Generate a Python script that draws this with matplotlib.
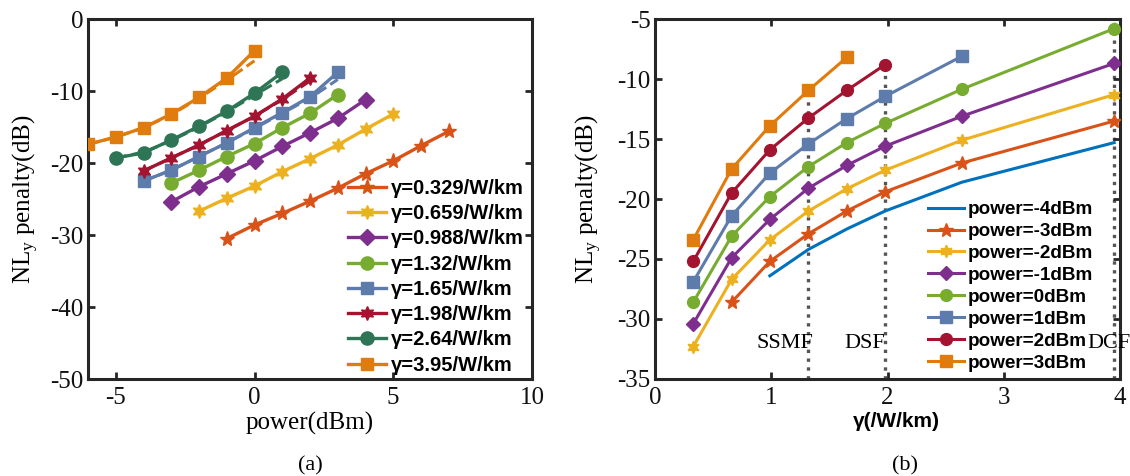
import matplotlib
matplotlib.use("Agg")
import matplotlib.pyplot as plt

# ---------------- data: panel (a) ----------------
gamma_labels = ["γ=0.329/W/km", "γ=0.659/W/km", "γ=0.988/W/km", "γ=1.32/W/km",
                "γ=1.65/W/km", "γ=1.98/W/km", "γ=2.64/W/km", "γ=3.95/W/km"]
power_0329 = [-1, 0, 1, 2, 3, 4, 5, 6, 7]
nl_0329 = [-30.5, -28.6, -27.0, -25.3, -23.5, -21.5, -19.7, -17.6, -15.6]
power_0659 = [-2, -1, 0, 1, 2, 3, 4, 5]
nl_0659 = [-26.7, -24.9, -23.2, -21.2, -19.4, -17.5, -15.3, -13.2]
power_0988 = [-3, -2, -1, 0, 1, 2, 3, 4]
nl_0988 = [-25.4, -23.3, -21.5, -19.7, -17.7, -15.8, -13.8, -11.2]
power_132 = [-3, -2, -1, 0, 1, 2, 3]
nl_132 = [-22.8, -21.0, -19.1, -17.3, -15.1, -13.1, -10.5]
power_165 = [-4, -3, -2, -1, 0, 1, 2, 3]
nl_165 = [-22.5, -21.0, -19.1, -17.2, -15.1, -13.0, -10.8, -7.4]
power_198 = [-4, -3, -2, -1, 0, 1, 2]
nl_198 = [-21.1, -19.3, -17.5, -15.5, -13.5, -11.1, -8.2]
power_264 = [-5, -4, -3, -2, -1, 0, 1]
nl_264 = [-19.3, -18.6, -16.8, -14.9, -12.8, -10.3, -7.4]
power_395 = [-6, -5, -4, -3, -2, -1, 0]
nl_395 = [-17.4, -16.4, -15.1, -13.2, -10.9, -8.2, -4.4]

# dashed (model) curves, visible near the upper ends
fit_165 = [-22.5, -21.0, -19.1, -17.2, -15.2, -13.1, -11.0, -8.4]
fit_198 = [-21.1, -19.3, -17.5, -15.5, -13.5, -11.2, -8.6]
fit_264 = [-19.3, -18.5, -16.9, -15.0, -12.9, -10.6, -8.3]
fit_395 = [-17.4, -16.4, -15.1, -13.3, -11.0, -8.5, -5.8]

# ---------------- data: panel (b) ----------------
power_labels = ["power=-4dBm", "power=-3dBm", "power=-2dBm", "power=-1dBm",
                "power=0dBm", "power=1dBm", "power=2dBm", "power=3dBm"]
g_m4 = [0.988, 1.32, 1.65, 1.98, 2.64, 3.95]
nl_m4 = [-26.4, -24.2, -22.5, -21.0, -18.6, -15.3]
g_m3 = [0.659, 0.988, 1.32, 1.65, 1.98, 2.64, 3.95]
nl_m3 = [-28.6, -25.2, -22.9, -21.0, -19.4, -17.0, -13.5]
g_m2 = [0.329, 0.659, 0.988, 1.32, 1.65, 1.98, 2.64, 3.95]
nl_m2 = [-32.3, -26.7, -23.4, -21.0, -19.15, -17.6, -15.1, -11.3]
g_m1 = [0.329, 0.659, 0.988, 1.32, 1.65, 1.98, 2.64, 3.95]
nl_m1 = [-30.4, -24.9, -21.7, -19.1, -17.2, -15.6, -13.1, -8.7]
g_0 = [0.329, 0.659, 0.988, 1.32, 1.65, 1.98, 2.64, 3.95]
nl_0 = [-28.6, -23.1, -19.8, -17.3, -15.3, -13.7, -10.85, -5.8]
g_1 = [0.329, 0.659, 0.988, 1.32, 1.65, 1.98, 2.64]
nl_1 = [-26.9, -21.4, -17.85, -15.4, -13.3, -11.45, -8.1]
g_2 = [0.329, 0.659, 0.988, 1.32, 1.65, 1.98]
nl_2 = [-25.2, -19.5, -15.9, -13.25, -10.95, -8.8]
g_3 = [0.329, 0.659, 0.988, 1.32, 1.65]
nl_3 = [-23.4, -17.5, -13.9, -10.95, -8.2]

fiber_names = ["SSMF", "DSF", "DCF"]
fiber_gamma = [1.32, 1.98, 3.95]
fiber_top = [-11.0, -8.8, -5.0]
fiber_text_x = [0.87, 1.63, 3.72]
fiber_text_y = -32.4

# ---------------- style ----------------
C_ORR = "#D95319"
C_YEL = "#EDB120"
C_PUR = "#7E2F8E"
C_LGR = "#77AC30"
C_BLG = "#5E7CAB"
C_DRD = "#A2142F"
C_DGR = "#2E7555"
C_ORG = "#E07B0E"
C_BLU = "#0072BD"
HEX = (6, 1, 0)

serif = "Liberation Serif"
sans = "Liberation Sans"
plt.rcParams["font.family"] = serif
plt.rcParams["axes.unicode_minus"] = False
plt.rcParams["mathtext.fontset"] = "custom"
plt.rcParams["mathtext.rm"] = serif
plt.rcParams["mathtext.it"] = serif

fig = plt.figure(figsize=(11.3, 4.76), dpi=100)
axA = fig.add_axes([88 / 1130, 97 / 476, 444 / 1130, 360 / 476])
axB = fig.add_axes([655 / 1130, 97 / 476, 465 / 1130, 360 / 476])

def style_axes(ax):
    for s in ax.spines.values():
        s.set_linewidth(2.2)
        s.set_color("#262626")
    ax.tick_params(direction="in", length=5, width=2, top=True, right=True,
                   labelsize=18, colors="#262626", labelcolor="#111111")
    ax.tick_params(axis="x", pad=6)
    ax.tick_params(axis="y", pad=3)
    for t in ax.get_xticklabels() + ax.get_yticklabels():
        t.set_fontfamily(serif)

# ---------------- panel (a) ----------------
seriesA = [
    (power_0329, nl_0329, C_ORR, "*", 11),
    (power_0659, nl_0659, C_YEL, HEX, 10),
    (power_0988, nl_0988, C_PUR, "D", 8),
    (power_132, nl_132, C_LGR, "o", 9.5),
    (power_165, nl_165, C_BLG, "s", 8.5),
    (power_198, nl_198, C_DRD, HEX, 10),
    (power_264, nl_264, C_DGR, "o", 9.5),
    (power_395, nl_395, C_ORG, "s", 8.5),
]
fitsA = [(power_165, fit_165, C_BLG), (power_198, fit_198, C_DRD),
         (power_264, fit_264, C_DGR), (power_395, fit_395, C_ORG)]
for x, y, c in fitsA:
    axA.plot(x, y, "--", color=c, lw=2.2, zorder=2)
for (x, y, c, m, ms), lab in zip(seriesA, gamma_labels):
    axA.plot(x, y, "-", color=c, lw=2.4, marker=m, ms=ms, mfc=c, mec=c,
             label=lab, zorder=3)

axA.set_xlim(-6, 10)
axA.set_ylim(-50, 0)
axA.set_xticks([-5, 0, 5, 10])
axA.set_yticks([0, -10, -20, -30, -40, -50])
style_axes(axA)
axA.set_xlabel("power(dBm)", fontsize=18, fontfamily=serif)
axA.xaxis.set_label_coords(0.5, -0.092)
axA.xaxis.label.set_va("top")
axA.set_ylabel(r"NL$_\mathregular{y}$ penalty(dB)", fontsize=18, fontfamily=serif)
axA.yaxis.set_label_coords(-0.105, 0.5)
legA = axA.legend(loc="lower left", bbox_to_anchor=(0.585, 0.012), frameon=False,
                  prop={"family": sans, "weight": "bold", "size": 14.5},
                  borderpad=0, borderaxespad=0, labelspacing=0.31,
                  handlelength=1.9, handletextpad=0.25)

# ---------------- panel (b) ----------------
for gx, top in zip(fiber_gamma, fiber_top):
    axB.vlines(gx, -35, top, colors="#555555", linestyles=":", lw=2.4, zorder=1)

seriesB = [
    (g_m4, nl_m4, C_BLU, None, 0),
    (g_m3, nl_m3, C_ORR, "*", 10),
    (g_m2, nl_m2, C_YEL, HEX, 9),
    (g_m1, nl_m1, C_PUR, "D", 7.5),
    (g_0, nl_0, C_LGR, "o", 8.5),
    (g_1, nl_1, C_BLG, "s", 8),
    (g_2, nl_2, C_DRD, "o", 8.5),
    (g_3, nl_3, C_ORG, "s", 8),
]
for (x, y, c, m, ms), lab in zip(seriesB, power_labels):
    axB.plot(x, y, "-", color=c, lw=2.2, marker=m, ms=ms, mfc=c, mec=c,
             label=lab, zorder=3)

for name, tx in zip(fiber_names, fiber_text_x):
    axB.text(tx, fiber_text_y, name, fontsize=16, fontfamily=serif,
             ha="left", va="baseline", clip_on=False, zorder=5)

axB.set_xlim(0, 4)
axB.set_ylim(-35, -5)
axB.set_xticks([0, 1, 2, 3, 4])
axB.set_yticks([-35, -30, -25, -20, -15, -10, -5])
style_axes(axB)
axB.set_xlabel("γ(/W/km)", fontsize=15, fontfamily=sans, fontweight="bold")
axB.xaxis.set_label_coords(0.52, -0.092)
axB.xaxis.label.set_va("top")
axB.set_ylabel(r"NL$_\mathregular{y}$ penalty(dB)", fontsize=18, fontfamily=serif)
axB.yaxis.set_label_coords(-0.11, 0.5)
legB = axB.legend(loc="lower left", bbox_to_anchor=(0.5875, 0.02), frameon=False,
                  prop={"family": sans, "weight": "bold", "size": 13.6},
                  borderpad=0, borderaxespad=0, labelspacing=0.25,
                  handlelength=1.9, handletextpad=0.2)

fig.text(310 / 1130, 1 - 466 / 476, "(a)", fontsize=16, fontfamily=serif,
         ha="center", va="center")
fig.text(905 / 1130, 1 - 466 / 476, "(b)", fontsize=16, fontfamily=serif,
         ha="center", va="center")

fig.savefig("out.png", dpi=100)
